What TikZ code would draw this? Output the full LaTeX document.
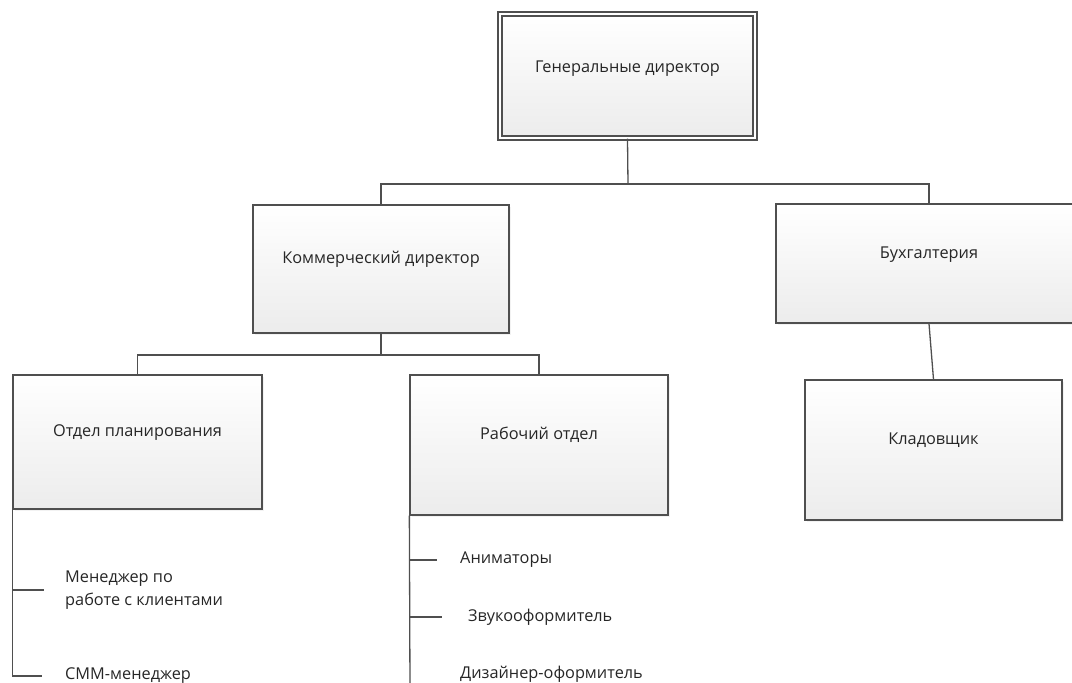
\documentclass[tikz,border=0pt]{standalone}
\usepackage{fontspec}
\setmainfont{Open Sans}
\usetikzlibrary{shadows}
\definecolor{linegray}{HTML}{4F4F4F}
\definecolor{boxgray}{HTML}{ECECEC}
\definecolor{textgray}{HTML}{262626}

\begin{document}
\begin{tikzpicture}[x=1pt, y=-1pt,
					box/.style={draw=linegray, line width=1.3pt, top color=white, bottom color=boxgray,
						drop shadow={shadow xshift=2pt, shadow yshift=-2pt, opacity=0.1},
						text=textgray, font=\fontsize{16.3}{19}\selectfont, text height=12pt, text depth=23pt},
					item/.style={anchor=west, inner sep=0pt, text=textgray, font=\fontsize{16.3}{23}\selectfont},
					link/.style={draw=linegray, line width=1.3pt},
				]
			        \useasboundingbox (0,0) rectangle (1072,683);

			        \node[box, double, double distance=2.6pt, text depth=19pt, minimum width=255pt, minimum height=124pt] (ceo) at (627.5,76) {Генеральные директор};
			        \node[box, minimum width=256pt, minimum height=128pt] (com) at (381,269) {Коммерческий директор};
			        \node[box, minimum width=306pt, minimum height=119pt] (acc) at (929,263.5) {Бухгалтерия};
			        \node[box, minimum width=249pt, minimum height=134pt] (plan) at (137.5,442) {Отдел планирования};
			        \node[box, minimum width=258pt, minimum height=140pt] (work) at (539,445) {Рабочий отдел};
			        \node[box, minimum width=257pt, minimum height=140pt] (store) at (933.5,450) {Кладовщик};

			        \node[item, align=left] (mgr) at (65,590) {Менеджер по\\работе с клиентами};
			        \node[item] (smm) at (65,676) {СММ-менеджер};
			        \node[item] (anim) at (460,560) {Аниматоры};
			        \node[item] (sound) at (468,617) {Звукооформитель};
			        \node[item] (design) at (460,674) {Дизайнер-оформитель};

			        \coordinate (bus1) at (628,184);
			        \coordinate (bus2) at (381,355);
			        \coordinate (wend) at (410,690);

			        \draw[link] (ceo.south) -- (bus1);
			        \draw[link] (com.north) |- (bus1) -| (acc.north);
			        \draw[link] (com.south) -- (bus2);
			        \draw[link] (plan.north) |- (bus2) -| (work.north);
			        \draw[link] (acc.south) -- (store.north);

			        \draw[link, shorten >=21pt] (plan.south west) |- (mgr.west);
			        \draw[link, shorten >=23pt] (plan.south west) |- (smm.west);
			        \draw[link] (work.south west) -- (wend);
			        \draw[link, shorten >=23pt] (work.south west) |- (anim.west);
			        \draw[link, shorten >=26pt] (work.south west) |- (sound.west);
			    \end{tikzpicture}
\end{document}
